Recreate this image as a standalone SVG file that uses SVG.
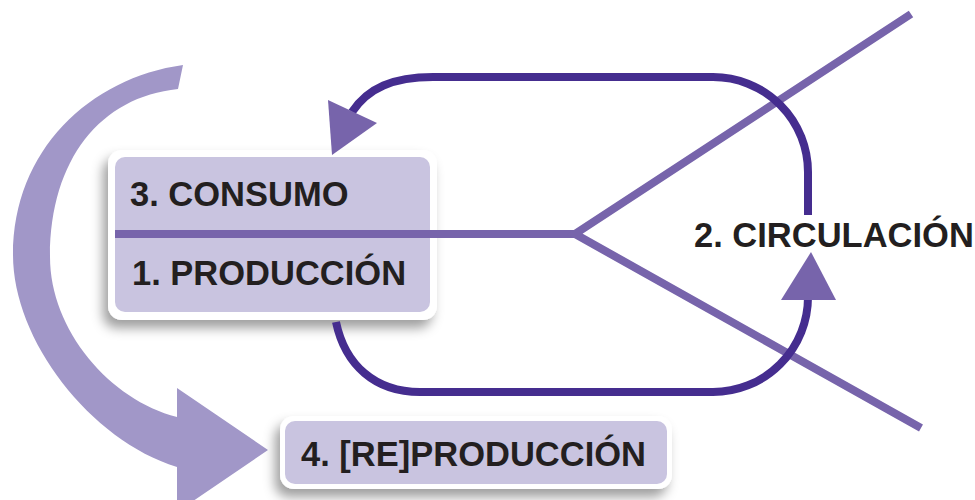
<svg xmlns="http://www.w3.org/2000/svg" width="975" height="500" viewBox="0 0 975 500">
<defs>
<filter id="shadow" x="-20%" y="-20%" width="140%" height="150%">
<feDropShadow dx="-5" dy="8" stdDeviation="6" flood-color="#000" flood-opacity="0.38"/>
</filter>
<style>
.label{font-family:"Liberation Sans",Arial,Helvetica,sans-serif;font-weight:bold;font-size:34.5px;fill:#231F20}
.frame{fill:#FFFFFF}
.fill{fill:#C9C4E0}
.branch{fill:none;stroke:#7764AB;stroke-width:8;stroke-linejoin:miter;stroke-miterlimit:10}
.loop{fill:none;stroke:#452D8F;stroke-width:8}
.head{fill:#7764AB}
</style>
</defs>
<rect width="975" height="500" fill="#FFFFFF"/>

<g id="reproduction-arrow">
<path d="M183,65 C90,78 13,150 13,255 C13,340 90,440 177,467 L177,512 L268,450 L177,388 L177,417 C110,400 50,330 50,257 C50,160 100,97 178,89 Z" fill="#A197C8"/>
</g>

<g id="node-consumo-produccion">
<rect class="frame" x="108" y="150" width="329" height="170" rx="14" filter="url(#shadow)"/>
<rect class="fill" x="115" y="157" width="315" height="155" rx="10"/>
<text class="label" x="130" y="206">3. CONSUMO</text>
<text class="label" x="132" y="285">1. PRODUCCIÓN</text>
</g>

<g id="node-reproduccion">
<rect class="frame" x="280" y="416" width="392" height="73" rx="14" filter="url(#shadow)"/>
<rect class="fill" x="285" y="421" width="382" height="63" rx="10"/>
<text class="label" x="301" y="466">4. [RE]PRODUCCIÓN</text>
</g>

<g id="node-circulacion">
<text class="label" x="694" y="247">2. CIRCULACIÓN</text>
</g>

<g id="connectors">
<path class="branch" d="M115,234 L575,234"/>
<path class="branch" d="M911,14 L575,234 L921,428"/>
<path class="loop" d="M352,112 C368,88 393,77 433,77 L713,77 A95 95 0 0 1 808,172 L808,215"/>
<path class="loop" d="M336,322 C345,365 375,392 420,392 L713,392 A95 95 0 0 0 808,297"/>
<polygon class="head" points="328,100 377,123 332,155"/>
<polygon class="head" points="811,252 781,300 836,300"/>
</g>
</svg>
